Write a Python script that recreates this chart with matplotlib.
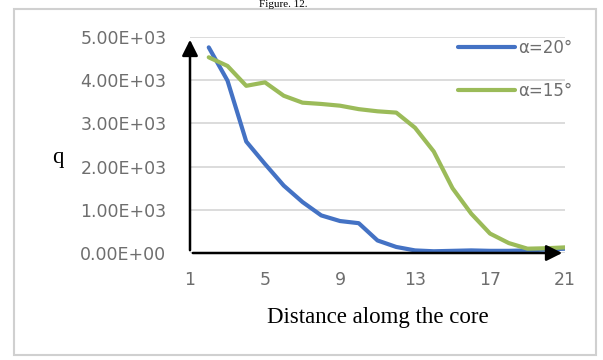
import matplotlib.pyplot as plt
from matplotlib.patches import Rectangle

# distance along the core (category positions)
dist = [2, 3, 4, 5, 6, 7, 8, 9, 10, 11, 12, 13, 14, 15, 16, 17, 18, 19, 20, 21]
q_20 = [4760, 3990, 2580, 2060, 1560, 1180, 870, 740, 690, 290, 140, 60, 40, 50, 60, 50, 50, 60, 80, 100]
q_15 = [4530, 4330, 3870, 3950, 3640, 3480, 3450, 3410, 3330, 3280, 3250, 2900, 2350, 1500, 910, 450, 230, 100, 110, 130]
x_ticks = [1, 5, 9, 13, 17, 21]
y_ticks = [0, 1000, 2000, 3000, 4000, 5000]

fig = plt.figure(figsize=(6.03, 3.6), dpi=100)
fig.patches.append(Rectangle((14/603, 5/360), 582/603, 346/360, transform=fig.transFigure,
                             fill=False, edgecolor='#d0d0d0', lw=1.5))
fig.text(0.47, 0.999, "Figure. 12.", ha='center', va='top', fontsize=8,
         family='Liberation Serif')

ax = fig.add_axes([190/603, 1-253/360, 375/603, 216/360])
ax.plot(dist, q_20, color='#4472C4', lw=3, label='α=20°', solid_capstyle='round')
ax.plot(dist, q_15, color='#9BBB59', lw=3, label='α=15°', solid_capstyle='round')

ax.set_xlim(1, 21)
ax.set_ylim(0, 5000)
ax.set_xticks(x_ticks)
ax.set_yticks(y_ticks)
ax.set_yticklabels(['{:.2E}'.format(v) for v in y_ticks])
ax.tick_params(length=0, labelsize=12.5, labelcolor='#6e6e6e', pad=13)
ax.tick_params(axis='y', pad=17)
for lab in ax.get_xticklabels() + ax.get_yticklabels():
    lab.set_family('DejaVu Sans')
ax.grid(axis='y', color='#d9d9d9', lw=1.3)
ax.set_axisbelow(True)
for s in ax.spines.values():
    s.set_visible(False)

# axis arrows
ax.annotate('', xy=(0, 1.0), xytext=(0, 0), xycoords='axes fraction',
            arrowprops=dict(arrowstyle='-|>', lw=1.8, color='black', mutation_scale=24))
ax.annotate('', xy=(1.0, 0), xytext=(0, 0), xycoords='axes fraction',
            arrowprops=dict(arrowstyle='-|>', lw=1.8, color='black', mutation_scale=24))

ax.set_xlabel('Distance alomg the core', family='Liberation Serif', fontsize=16.5, labelpad=13)
ax.set_ylabel('q', family='Liberation Serif', fontsize=16.5, rotation=0)
ax.yaxis.set_label_coords(-0.352, 0.395)

leg = ax.legend(loc='upper right', bbox_to_anchor=(1.06, 1.06), frameon=False,
                handlelength=3.4, labelspacing=1.5, handletextpad=0.2,
                prop={'family': 'DejaVu Sans', 'size': 12})
for t in leg.get_texts():
    t.set_color('#6e6e6e')

fig.savefig('out.png', dpi=100)
